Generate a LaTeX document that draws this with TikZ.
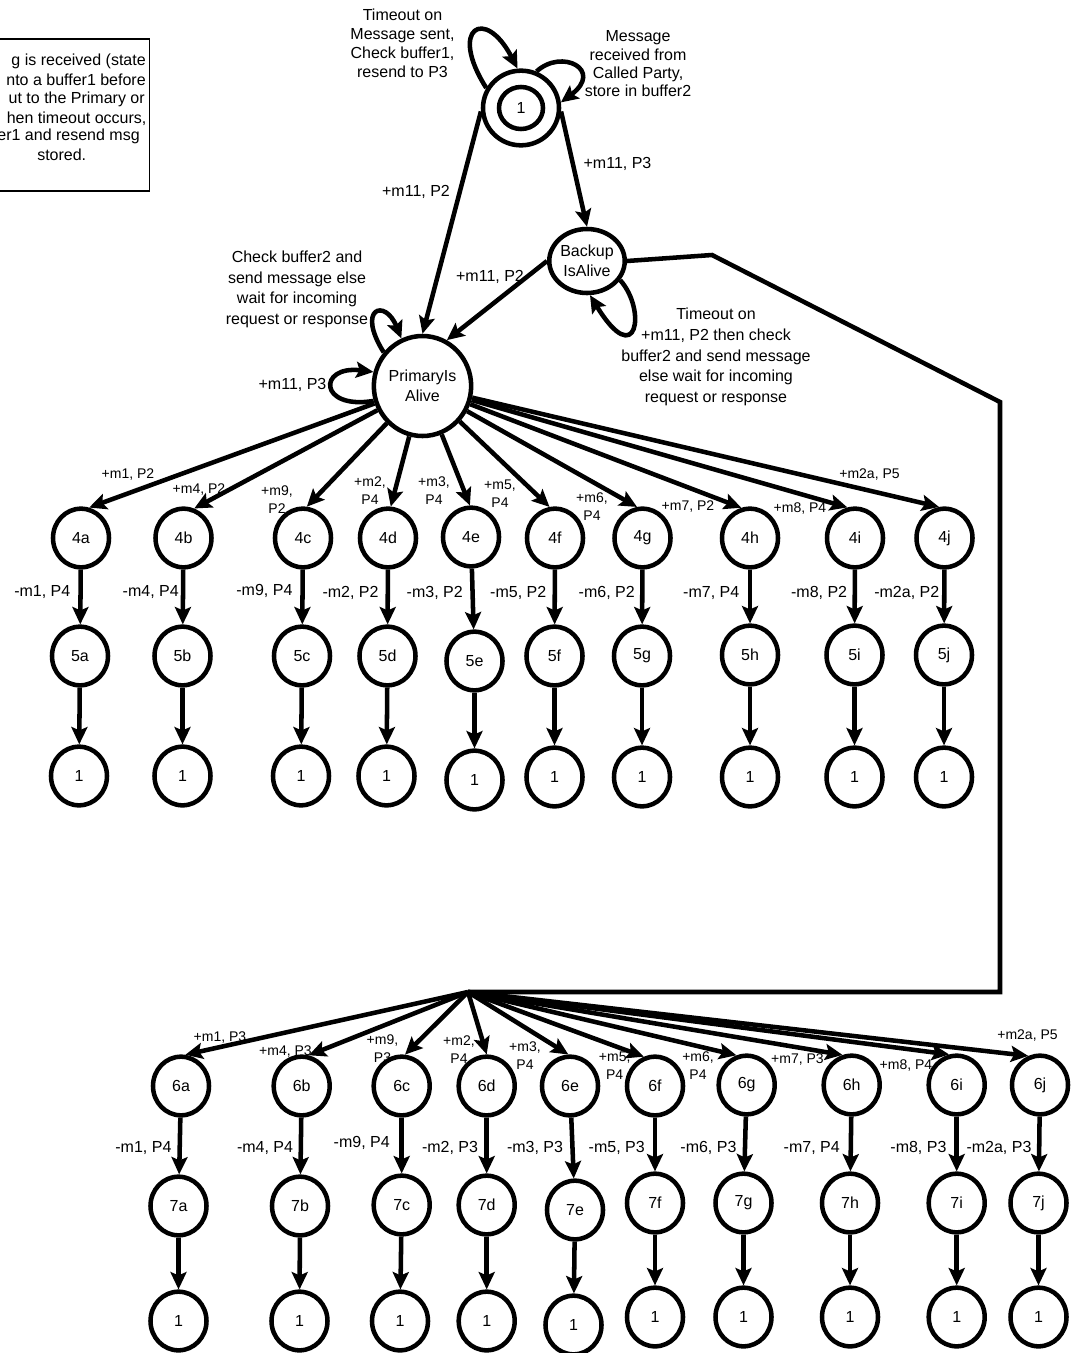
\documentclass[tikz,border=0pt]{standalone}
\usepackage{fontspec}
\setmainfont{Liberation Sans}
\usetikzlibrary{arrows.meta,shapes.geometric}

\begin{document}
\begin{tikzpicture}[x=0.75pt,y=-0.75pt,
  every node/.style={inner sep=0pt},
  st/.style={ellipse, draw, line width=3.4pt, minimum width=42pt, minimum height=44pt,
             font=\fontsize{12}{14}\selectfont},
  arr/.style={line width=3.4pt, -{Stealth[length=13pt,width=12pt,inset=2.5pt]}},
  wire/.style={line width=3.4pt, line join=miter},
  lbl/.style={font=\fontsize{12}{14}\selectfont},
  sml/.style={font=\fontsize{10.5}{13.5}\selectfont, align=center},
]
\useasboundingbox (0,0) rectangle (1075,1353);
\fill[white] (0,0) rectangle (1075,1353);
\clip (0,0) rectangle (1075,1353);

% ---------- note box (runs off the left edge) ----------
\node[draw, line width=1.1pt, minimum width=122pt, minimum height=114pt, anchor=north east]
  (notebox) at (150,38.3) {};
\node[lbl, anchor=east] (t1) at (146,61)    {g is received (state};
\node[lbl, anchor=east] (t2) at (146,80)    {nto a buffer1 before};
\node[lbl, anchor=east] (t3) at (145,99.3)  {ut to the Primary or};
\node[lbl, anchor=east] (t4) at (146.7,118.3) {hen timeout occurs,};
\node[lbl, anchor=east] (t5) at (140,136.7) {er1 and resend msg};
\node[lbl, anchor=west] (t6) at (37,155)    {stored.};

% ---------- upper states ----------
\node[st, minimum width=57pt, minimum height=56pt] (n1) at (521,108) {1};
\node[draw, ellipse, line width=3.4pt, minimum width=33pt, minimum height=31.5pt] (n1in) at (n1.center) {};
\node[st, minimum width=73pt, minimum height=75pt, align=center,
      font=\fontsize{12}{15}\selectfont] (pa) at (422.5,386) {PrimaryIs\\Alive};
\node[st, minimum width=44.5pt, minimum height=48pt, align=center,
      font=\fontsize{12}{15}\selectfont] (bk) at (587,261) {Backup\\IsAlive};

% loop texts
\node[align=center, font=\fontsize{12}{14.25}\selectfont] (c1) at (402.5,43.5)
  {Timeout on\\Message sent,\\Check buffer1,\\resend to P3};
\node[align=center, font=\fontsize{12}{13.75}\selectfont] (c2) at (638,64)
  {Message\\received from\\Called Party,\\store in buffer2};
\node[align=center, font=\fontsize{12}{15.4}\selectfont] (c3) at (297,289.5)
  {Check buffer2 and\\send message else\\wait for incoming\\request or response};
\node[align=center, font=\fontsize{12}{15.6}\selectfont] (c4) at (716,357)
  {Timeout on\\+m11, P2 then check\\buffer2 and send message\\else wait for incoming\\request or response};

% self loops
\draw[arr] (n1.150) .. controls (448,28) and (485,6) .. (n1.95);
\draw[arr] (n1.67) .. controls (562,48) and (604,70) .. (n1.8);
\draw[arr] (pa.139) .. controls (356,308) and (385,298) .. (pa.114);
\draw[arr] (pa.197) .. controls (318,410) and (318,365) .. (pa.164);
\draw[arr] (bk.-30) .. controls (647,310) and (637,372) .. (bk.-85);

% transitions between upper states
\draw[arr] (n1.185) -- (pa.north);
\draw[arr] (n1.-5) -- (bk.north);
\draw[arr] (bk.west) -- (pa.62);
\node[lbl] (e1) at (416,191.5) {+m11, P2};
\node[lbl] (e2) at (617.5,163.5) {+m11, P3};
\node[lbl] (e3) at (490,277) {+m11, P2};
\node[lbl] (e4) at (292.5,385) {+m11, P3};

% line from the backup state down to the lower fan
\coordinate (w1) at (712,255);
\coordinate (w2) at (1000,402);
\coordinate (w3) at (1000,992);
\coordinate (fan) at (468,992);
\draw[wire] (bk.east) -- (w1) -- (w2) -- (w3) -- (fan);

% ---------- upper branches: 4x -> 5x -> 1 ----------
\foreach \c/\xa/\xb/\xc/\ya/\yb/\yc in {
  a/81/80/79/538/656/776, b/183.5/182.5/182.5/538/656/776,
  c/303/302/301/538/656/776, d/388/387.5/386.5/538/656/776,
  e/471/474.5/474.5/537/661/780, f/555/554.5/554.5/538/656/777,
  g/642.5/642/642/538/656/777, h/750/750/750/538/655/777,
  i/855/854.5/854.5/538/655/777, j/944.5/944/944/538/655/777} {
  \node[st] (n4\c) at (\xa,\ya) {4\c};
  \node[st] (n5\c) at (\xb,\yb) {5\c};
  \node[st] (r5\c) at (\xc,\yc) {1};
  \draw[arr] (n4\c) -- (n5\c);
  \draw[arr] (n5\c) -- (r5\c);
}
\foreach \c/\a in {a/75,b/70,c/83,d/85,e/92,f/100,g/100,h/106,i/104,j/100}
  \draw[arr] (pa) -- (n4\c.\a);

\node[sml] (f4a) at (128,475) {+m1, P2};
\node[sml] (f4b) at (199,490) {+m4, P2};
\node[sml] (f4c) at (277,500) {+m9,\\P2};
\node[sml] (f4d) at (370,491) {+m2,\\P4};
\node[sml] (f4e) at (434,491) {+m3,\\P4};
\node[sml] (f4f) at (500,494) {+m5,\\P4};
\node[sml] (f4g) at (592,507) {+m6,\\P4};
\node[sml] (f4h) at (688,507) {+m7, P2};
\node[sml] (f4i) at (800,508.5) {+m8, P4};
\node[sml] (f4j) at (869.5,475) {+m2a, P5};

\node[lbl, anchor=east] (v4a) at (70.6,592) {-m1, P4};
\node[lbl, anchor=east] (v4b) at (179,592) {-m4, P4};
\node[lbl, anchor=east] (v4c) at (292.7,591) {-m9, P4};
\node[lbl, anchor=east] (v4d) at (378.8,593) {-m2, P2};
\node[lbl, anchor=east] (v4e) at (463,593) {-m3, P2};
\node[lbl, anchor=east] (v4f) at (546.5,593) {-m5, P2};
\node[lbl, anchor=east] (v4g) at (635,593) {-m6, P2};
\node[lbl, anchor=east] (v4h) at (739.5,593) {-m7, P4};
\node[lbl, anchor=east] (v4i) at (847.4,593) {-m8, P2};
\node[lbl, anchor=east] (v4j) at (939.5,593) {-m2a, P2};

% ---------- lower branches: 6x -> 7x -> 1 ----------
\foreach \c/\xa/\xb/\xc/\ya/\yb/\yc in {
  a/181/178.5/178.5/1086/1206/1321, b/301.7/300/299.5/1086/1206/1321,
  c/401.7/401.7/400/1086/1205/1321, d/486.7/486.7/486.7/1086/1205/1321,
  e/570/575/573.5/1086/1210/1325, f/655/655/655/1086/1203/1317,
  g/746.7/743.5/743.5/1085/1203/1317, h/851.7/850/850/1085/1203/1317,
  i/956.7/956.7/956.7/1085/1203/1317, j/1040/1038.5/1038.5/1085/1203/1317} {
  \node[st] (n6\c) at (\xa,\ya) {6\c};
  \node[st] (n7\c) at (\xb,\yb) {7\c};
  \node[st] (r7\c) at (\xc,\yc) {1};
  \draw[arr] (n6\c) -- (n7\c);
  \draw[arr] (n7\c) -- (r7\c);
}
\foreach \c/\a in {a/82,b/77,c/84,d/90,e/93,f/111,g/109,h/107,i/104,j/112}
  \draw[arr] (fan) -- (n6\c.\a);

\node[sml] (f6a) at (220,1037) {+m1, P3};
\node[sml] (f6b) at (285.5,1051) {+m4, P3};
\node[sml] (f6c) at (382.5,1049) {+m9,\\P3};
\node[sml] (f6d) at (459,1050) {+m2,\\P4};
\node[sml] (f6e) at (525,1055.5) {+m3,\\P4};
\node[sml] (f6f) at (614.7,1066) {+m5,\\P4};
\node[sml] (f6g) at (698,1066) {+m6,\\P4};
\node[sml] (f6h) at (797.5,1059) {+m7, P3};
\node[sml] (f6i) at (906,1065) {+m8, P4};
\node[sml] (f6j) at (1027.5,1035) {+m2a, P5};

\node[lbl, anchor=east] (v6a) at (171.7,1148) {-m1, P4};
\node[lbl, anchor=east] (v6b) at (293.3,1148) {-m4, P4};
\node[lbl, anchor=east] (v6c) at (390,1143) {-m9, P4};
\node[lbl, anchor=east] (v6d) at (478.3,1148) {-m2, P3};
\node[lbl, anchor=east] (v6e) at (563.3,1148) {-m3, P3};
\node[lbl, anchor=east] (v6f) at (645,1148) {-m5, P3};
\node[lbl, anchor=east] (v6g) at (736.7,1148) {-m6, P3};
\node[lbl, anchor=east] (v6h) at (840,1148) {-m7, P4};
\node[lbl, anchor=east] (v6i) at (946.7,1148) {-m8, P3};
\node[lbl, anchor=east] (v6j) at (1031.7,1148) {-m2a, P3};
\end{tikzpicture}
\end{document}
